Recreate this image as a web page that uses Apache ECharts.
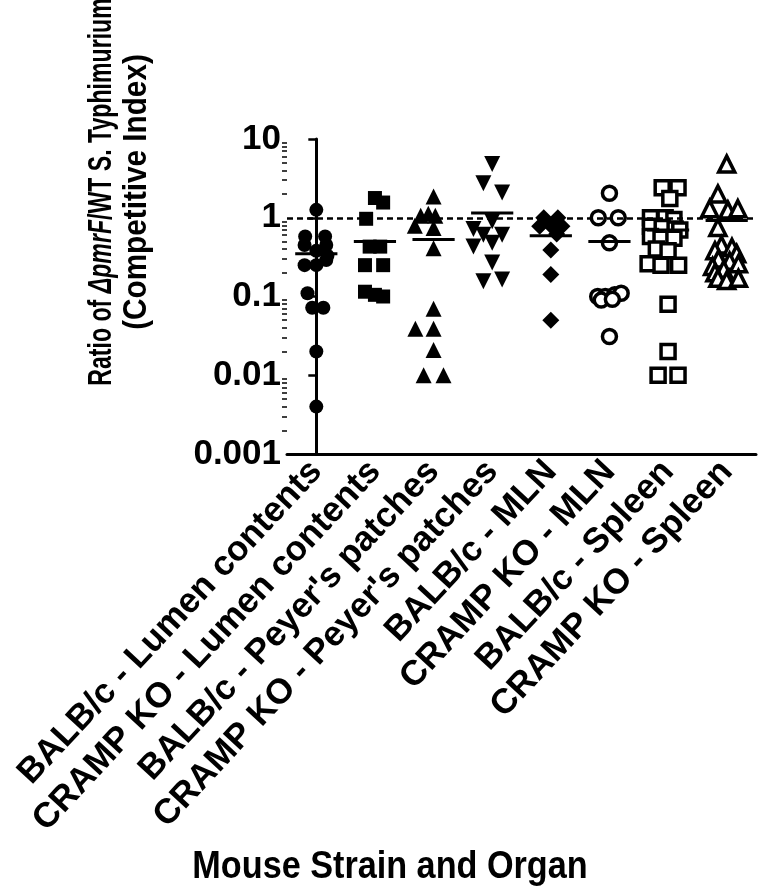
<!DOCTYPE html>
<html>
<head>
<meta charset="utf-8">
<title>Competitive Index</title>
<script src="https://cdn.jsdelivr.net/npm/echarts@6/dist/echarts.min.js"></script>
<style>
  html, body { margin: 0; padding: 0; background: #fff; }
  #chart { width: 767px; height: 894px; }
</style>
</head>
<body>
<div id="chart"></div>
<script>
// groups on the x axis
var groups = [
    'BALB/c - Lumen contents',
    'CRAMP KO - Lumen contents',
    'BALB/c - Peyer\'s patches',
    'CRAMP KO - Peyer\'s patches',
    'BALB/c - MLN',
    'CRAMP KO - MLN',
    'BALB/c - Spleen',
    'CRAMP KO - Spleen'
]
var yTicks = [0.001, 0.01, 0.1, 1, 10]

// competitive index per animal
var balbLumen = [1.26, 0.58, 0.58, 0.45, 0.45, 0.38, 0.33, 0.29, 0.25, 0.25, 0.11, 0.072, 0.072, 0.02, 0.004]
var crampLumen = [1.78, 1.56, 0.97, 0.43, 0.43, 0.25, 0.25, 0.115, 0.105, 0.1]
var balbPeyer = [1.86, 1.06, 1.12, 1.06, 0.79, 0.74, 0.41, 0.07, 0.039, 0.039, 0.021, 0.01, 0.01]
var crampPeyer = [4.8, 2.75, 2.09, 0.9, 0.72, 0.61, 0.61, 0.48, 0.43, 0.27, 0.156, 0.164]
var balbMln = [1.0, 1.0, 0.78, 0.8, 0.78, 0.62, 0.39, 0.19, 0.05]
var crampMln = [2.05, 1.0, 1.0, 0.48, 0.1, 0.1, 0.105, 0.11, 0.09, 0.092, 0.031]
var balbSpleen = [2.4, 2.4, 1.75, 1.0, 1.0, 0.95, 0.78, 0.75, 0.72, 0.7, 0.58, 0.55, 0.55, 0.4, 0.38, 0.26, 0.25, 0.25, 0.08, 0.02, 0.01, 0.01]
var crampSpleen = [4.8, 2.0, 1.3, 1.25, 1.3, 0.75, 0.45, 0.42, 0.38, 0.35, 0.3, 0.28, 0.26, 0.24, 0.22, 0.2, 0.17, 0.16, 0.17]

// horizontal scatter of each point inside its column (fraction of a column)
var balbLumenJit = [0, -0.19, 0.15, -0.2, 0.17, 0, 0.19, 0.17, -0.2, 0, -0.15, -0.07, 0.12, 0, 0]
var crampLumenJit = [0, 0.14, -0.15, -0.09, 0.09, -0.17, 0.14, -0.17, 0, 0.14]
var balbPeyerJit = [0, -0.22, -0.09, 0.03, -0.32, 0, 0, 0, -0.31, 0, 0, -0.17, 0.17]
var crampPeyerJit = [0, -0.15, 0.17, 0, -0.32, -0.15, 0.17, 0, -0.32, 0, -0.15, 0.17]
var balbMlnJit = [-0.12, 0.12, -0.19, 0, 0.19, 0.1, 0, 0, 0]
var crampMlnJit = [0, -0.19, 0.15, 0, -0.2, -0.07, 0.09, 0.2, -0.14, 0.05, 0]
var balbSpleenJit = [-0.1, 0.17, 0.03, -0.3, -0.05, 0.1, -0.3, -0.1, 0.12, 0.2, -0.3, -0.12, 0.1, -0.2, 0, -0.34, -0.12, 0.18, 0, 0, -0.17, 0.17]
var crampSpleenJit = [0, -0.15, -0.29, 0.02, 0.19, -0.15, -0.09, 0.09, -0.2, 0.17, -0.14, 0.05, 0.2, -0.24, -0.05, -0.2, -0.15, 0, 0.2]

var medians = [0.35, 0.5, 0.53, 1.15, 0.59, 0.5, 0.7, 0.92]

var FONT = 'Liberation Sans, Arial, sans-serif'

// minor ticks of the log axis (2..9 in every decade)
var minorTicks = []
for (var d = -3; d < 1; d++) {
    for (var k = 2; k < 10; k++) {
        minorTicks.push(+(k * Math.pow(10, d)).toPrecision(3))
    }
}

function pts(idx, vals, jit) {
    return vals.map(function (v, i) { return [idx + jit[i], v] })
}

function dotSeries(idx, vals, jit, symbol, size, open, rotate) {
    return {
        type: 'scatter',
        xAxisIndex: 1,
        yAxisIndex: 0,
        symbol: symbol,
        symbolSize: size,
        symbolRotate: rotate || 0,
        itemStyle: open
            ? { color: '#fff', borderColor: '#000', borderWidth: 3.5, opacity: 1 }
            : { color: '#000', opacity: 1 },
        data: pts(idx, vals, jit),
        z: 3
    }
}

var series = [
    dotSeries(0, balbLumen, balbLumenJit, 'circle', 14, false),
    dotSeries(1, crampLumen, crampLumenJit, 'rect', 14, false),
    dotSeries(2, balbPeyer, balbPeyerJit, 'triangle', 16, false),
    dotSeries(3, crampPeyer, crampPeyerJit, 'triangle', 16, false, 180),
    dotSeries(4, balbMln, balbMlnJit, 'diamond', 17, false),
    dotSeries(5, crampMln, crampMlnJit, 'circle', 14, true),
    dotSeries(6, balbSpleen, balbSpleenJit, 'rect', 14, true),
    dotSeries(7, crampSpleen, crampSpleenJit, 'triangle', 16, true),
    {
        // median bars
        type: 'custom',
        xAxisIndex: 1,
        yAxisIndex: 0,
        z: 5,
        data: medians.map(function (m, i) { return [i, m] }),
        renderItem: function (params, api) {
            var x = api.value(0), y = api.value(1)
            var a = api.coord([x - 0.36, y])
            var b = api.coord([x + 0.36, y])
            return {
                type: 'line',
                shape: { x1: a[0], y1: a[1], x2: b[0], y2: b[1] },
                style: { stroke: '#000', lineWidth: 3 }
            }
        },
        markLine: {
            silent: true,
            symbol: 'none',
            label: { show: false },
            lineStyle: { color: '#000', width: 2.5, type: [6, 4] },
            data: [{ yAxis: 1 }]
        }
    }
]

var myChart = echarts.init(document.getElementById('chart'))
var option = {
    backgroundColor: '#fff',
    animation: false,
    grid: { left: 287, right: 11, top: 139, bottom: 440 },
    xAxis: [
        {
            type: 'category',
            data: groups,
            boundaryGap: true,
            axisLine: { lineStyle: { color: '#000', width: 3 } },
            axisTick: { alignWithLabel: true, length: 8, lineStyle: { color: '#000', width: 2.5 } },
            axisLabel: {
                interval: 0,
                rotate: 47,
                margin: 12,
                color: '#000',
                fontSize: 35,
                fontWeight: 'bold',
                fontFamily: FONT
            },
            splitLine: { show: false }
        },
        {
            type: 'value',
            show: false,
            min: -0.5,
            max: 7.5
        }
    ],
    yAxis: [
        {
            type: 'log',
            logBase: 10,
            min: 0.001,
            max: 10,
            axisLine: { show: true, lineStyle: { color: '#000', width: 3 } },
            axisTick: { show: true, length: 8, lineStyle: { color: '#000', width: 2.5 } },
            axisLabel: {
                margin: 6,
                color: '#000',
                fontSize: 35,
                fontWeight: 'bold',
                fontFamily: FONT,
                formatter: function (v) {
                    for (var i = 0; i < yTicks.length; i++) {
                        if (Math.abs(Math.log10(v) - Math.log10(yTicks[i])) < 1e-6) return String(yTicks[i])
                    }
                    return ''
                }
            },
            splitLine: { show: false }
        },
        {
            type: 'log',
            logBase: 10,
            min: 0.001,
            max: 10,
            position: 'left',
            axisLine: { show: false },
            axisLabel: { show: false },
            axisTick: { show: true, length: 5, customValues: minorTicks, lineStyle: { color: '#000', width: 1.5 } },
            splitLine: { show: false }
        }
    ],
    graphic: [
        {
            type: 'text',
            x: 102,
            y: 192,
            rotation: Math.PI / 2,
            scaleX: 0.68,
            style: {
                text: '{n|Ratio of }{i|\u0394pmrF}{n|/WT S. Typhimurium}',
                align: 'center',
                verticalAlign: 'middle',
                rich: {
                    n: { fontSize: 34, fontWeight: 'bold', fontFamily: FONT, fill: '#000' },
                    i: { fontSize: 34, fontWeight: 'bold', fontStyle: 'italic', fontFamily: FONT, fill: '#000' }
                }
            }
        },
        {
            type: 'text',
            x: 137,
            y: 192,
            rotation: Math.PI / 2,
            scaleX: 0.9,
            style: {
                text: '(Competitive Index)',
                align: 'center',
                verticalAlign: 'middle',
                fontSize: 33,
                fontWeight: 'bold',
                fontFamily: FONT,
                fill: '#000'
            }
        },
        {
            type: 'text',
            x: 390,
            y: 868,
            scaleX: 0.9,
            style: {
                text: 'Mouse Strain and Organ',
                align: 'center',
                verticalAlign: 'middle',
                fontSize: 38,
                fontWeight: 'bold',
                fontFamily: FONT,
                fill: '#000'
            }
        }
    ],
    series: series
}
myChart.setOption(option)
</script>
</body>
</html>
